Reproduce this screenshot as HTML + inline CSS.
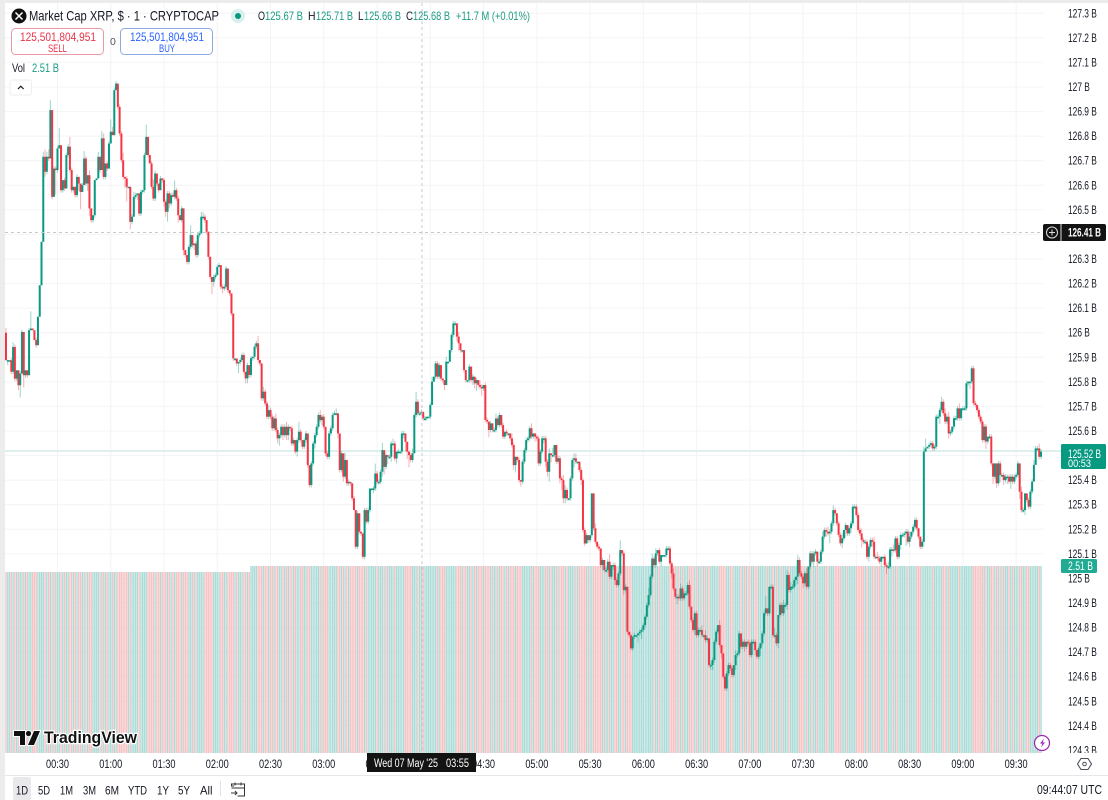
<!DOCTYPE html>
<html lang="en">
<head>
<meta charset="utf-8">
<title>Market Cap XRP chart</title>
<style>
html,body{margin:0;padding:0;background:#fff;width:1108px;height:800px;overflow:hidden}
svg{display:block;font-family:"Liberation Sans",sans-serif}
text{fill:#131722;font-size:12px}
.g{fill:#1a9c84}
</style>
</head>
<body>
<svg id="chart" xmlns="http://www.w3.org/2000/svg" width="1108" height="800" viewBox="0 0 1108 800">
<rect x="0" y="0" width="1108" height="800" fill="#ffffff"/>
<g id="grid"></g>
<g id="volumes"></g>
<line x1="5" x2="1061" y1="451" y2="451" stroke="#d4ebe7" stroke-width="1.5"/>
<g id="candles"></g>
<line x1="422" x2="422" y1="3" y2="753" stroke="#c6c8ce" stroke-dasharray="3 3"/>
<line x1="5" x2="1043" y1="232.5" y2="232.5" stroke="#c6c8ce" stroke-dasharray="3 3"/>
<g id="price-axis"></g>
<rect x="5" y="753" width="1103" height="23" fill="#ffffff"/>
<g id="time-axis"></g>

<g>
<rect x="1061" y="444" width="45" height="25" rx="1.5" fill="#089981"/>
<text x="1068" y="458" style="fill:#fff;font-size:11.5px" textLength="33" lengthAdjust="spacingAndGlyphs">125.52 B</text>
<text x="1068" y="467" style="fill:#fff;font-size:11px" textLength="23" lengthAdjust="spacingAndGlyphs">00:53</text>
</g>
<g>
<rect x="1061" y="559" width="36" height="14" rx="1.5" fill="#22ab94"/>
<text x="1068" y="570" style="fill:#fff;font-size:11.5px" textLength="25" lengthAdjust="spacingAndGlyphs">2.51 B</text>
</g>
<g>
<rect x="1043" y="224" width="63" height="17" rx="2" fill="#131313"/>
<line x1="1061" x2="1061" y1="224" y2="241" stroke="#ddd"/>
<circle cx="1052" cy="232.5" r="5.5" fill="none" stroke="#ddd"/>
<path d="M1049 232.5h6M1052 229.5v6" stroke="#ddd" fill="none"/>
<text x="1068" y="236.500" style="fill:#fff;font-size:11.5px;font-weight:bold" textLength="33" lengthAdjust="spacingAndGlyphs">126.41 B</text>
</g>
<g>
<rect x="367" y="753" width="109" height="19" fill="#131313"/>
<text x="374" y="767" style="fill:#fff;font-size:11.5px" textLength="64" lengthAdjust="spacingAndGlyphs">Wed 07 May '25</text>
<text x="446" y="767" style="fill:#fff;font-size:11.500px" textLength="23" lengthAdjust="spacingAndGlyphs">03:55</text>
</g>

<rect x="0" y="0" width="1108" height="3" fill="#ececec"/>
<rect x="0" y="0" width="5" height="800" fill="#ececec"/>

<g>
<circle cx="19" cy="16" r="7.500" fill="#111"/>
<path d="M15.500 12.500l7 7M22.500 12.500l-7 7" stroke="#fff" stroke-width="1.500" fill="none"/>
</g>
<text x="29" y="20.500" style="font-size:14px" textLength="190" lengthAdjust="spacingAndGlyphs">Market Cap XRP, $ · 1 · CRYPTOCAP</text>
<g>
<circle cx="238" cy="16" r="7" fill="#d9f0ec"/>
<circle cx="238" cy="16" r="3" fill="#089981"/>
</g>
<g>
<text x="258" y="20" textLength="7" lengthAdjust="spacingAndGlyphs">O</text>
<text class="g" x="265" y="20" textLength="38" lengthAdjust="spacingAndGlyphs">125.67 B</text>
<text x="308" y="20" textLength="7.500" lengthAdjust="spacingAndGlyphs">H</text>
<text class="g" x="316" y="20" textLength="37" lengthAdjust="spacingAndGlyphs">125.71 B</text>
<text x="358" y="20" textLength="5.500" lengthAdjust="spacingAndGlyphs">L</text>
<text class="g" x="364" y="20" textLength="37" lengthAdjust="spacingAndGlyphs">125.66 B</text>
<text x="406" y="20" textLength="7" lengthAdjust="spacingAndGlyphs">C</text>
<text class="g" x="413" y="20" textLength="37" lengthAdjust="spacingAndGlyphs">125.68 B</text>
<text class="g" x="456" y="20" textLength="74" lengthAdjust="spacingAndGlyphs">+11.7 M (+0.01%)</text>
</g>
<g>
<rect x="11.500" y="28.500" width="92" height="26" rx="4" fill="#fff" stroke="#eb9aa3"/>
<text x="20" y="41" style="fill:#e8344a;font-size:12px" textLength="76" lengthAdjust="spacingAndGlyphs">125,501,804,951</text>
<text x="48" y="52" style="fill:#e8344a;font-size:11px" textLength="19" lengthAdjust="spacingAndGlyphs">SELL</text>
</g>
<text x="110" y="45" style="fill:#555;font-size:10.500px">0</text>
<g>
<rect x="120.500" y="28.500" width="92" height="26" rx="4" fill="#fff" stroke="#8ea9e2"/>
<text x="130" y="41" style="fill:#2962ff;font-size:12px" textLength="74" lengthAdjust="spacingAndGlyphs">125,501,804,951</text>
<text x="159" y="52" style="fill:#2962ff;font-size:11px" textLength="16" lengthAdjust="spacingAndGlyphs">BUY</text>
</g>
<text x="12" y="72" textLength="13" lengthAdjust="spacingAndGlyphs">Vol</text>
<text class="g" x="32" y="72" textLength="27" lengthAdjust="spacingAndGlyphs">2.51 B</text>
<g>
<rect x="10" y="80" width="21.500" height="15" rx="2" fill="#fff" stroke="#eeeeee"/>
<path d="M18 89l2.800-2.800 2.800 2.800" fill="none" stroke="#131722" stroke-width="1.200"/>
</g>

<g>
<path d="M14 731h11v14h-5v-9h-6zM34 731h6l-6 14h-6z" fill="#111" stroke="#fff" stroke-width="2" paint-order="stroke"/>
<circle cx="28.500" cy="733.500" r="2.600" fill="#111" stroke="#fff" stroke-width="1.500" paint-order="stroke"/>
<text x="44" y="743" style="font-size:17px;font-weight:bold;fill:#111;stroke:#fff;stroke-width:2.500px;paint-order:stroke" textLength="93" lengthAdjust="spacingAndGlyphs">TradingView</text>
</g>
<g>
<circle cx="1042" cy="743" r="7.500" fill="#fff" stroke="#9c27b0" stroke-width="1.200"/>
<path d="M1044 738.500l-4 5h2.400l-1.400 4 4-5h-2.400z" fill="#9c27b0"/>
</g>
<g>
<path d="M1081 758.500h7l3.500 5.500-3.500 5.500h-7l-3.500-5.500z" fill="none" stroke="#4a4f5c" stroke-width="1.100"/>
<circle cx="1084.500" cy="764" r="1.800" fill="none" stroke="#4a4f5c" stroke-width="1"/>
</g>

<rect x="5" y="775" width="1103" height="1" fill="#e6e7eb"/>
<rect x="13" y="777" width="18" height="23" rx="2" fill="#e9e9ec"/>
<g>
<text x="16" y="794.500" textLength="12" lengthAdjust="spacingAndGlyphs">1D</text>
<text x="38" y="794.500" textLength="12" lengthAdjust="spacingAndGlyphs">5D</text>
<text x="60" y="794.500" textLength="13" lengthAdjust="spacingAndGlyphs">1M</text>
<text x="83" y="794.500" textLength="13" lengthAdjust="spacingAndGlyphs">3M</text>
<text x="105" y="794.500" textLength="14" lengthAdjust="spacingAndGlyphs">6M</text>
<text x="128" y="794.500" textLength="19" lengthAdjust="spacingAndGlyphs">YTD</text>
<text x="157" y="794.500" textLength="12" lengthAdjust="spacingAndGlyphs">1Y</text>
<text x="178" y="794.500" textLength="12" lengthAdjust="spacingAndGlyphs">5Y</text>
<text x="200" y="794.500" textLength="12.500" lengthAdjust="spacingAndGlyphs">All</text>
</g>
<rect x="220" y="781" width="1" height="15" fill="#e0e3eb"/>
<g fill="none" stroke="#333" stroke-width="1">
<path d="M234 786h-2.500v-2h13v12h-7M231.500 788h13M235 782.500v3M241 782.500v3"/>
<path d="M231 793h6M235 791l2 2-2 2"/>
</g>
<text x="1037" y="794" style="font-size:12.500px" textLength="65" lengthAdjust="spacingAndGlyphs">09:44:07 UTC</text>
<script>
const closes = [
125.888,125.888,125.888,125.841,125.942,125.813,125.847,125.786,125.834,126.003,125.827,125.847,125.827,126.010,126.017,126.010,125.970,125.949,126.065,126.193,126.370,126.716,126.655,126.716,126.709,126.906,126.553,126.668,126.662,126.750,
126.763,126.580,126.621,126.587,126.723,126.757,126.662,126.580,126.594,126.560,126.634,126.607,126.573,126.601,126.709,126.607,126.641,126.506,126.458,126.478,126.621,126.628,126.716,126.662,126.791,126.634,126.689,126.668,126.770,126.818,
126.804,126.987,127.014,126.919,126.811,126.702,126.634,126.628,126.594,126.594,126.451,126.472,126.553,126.560,126.567,126.485,126.573,126.580,126.723,126.797,126.723,126.689,126.594,126.546,126.648,126.607,126.580,126.628,126.621,126.533,
126.492,126.567,126.526,126.560,126.553,126.580,126.546,126.478,126.458,126.506,126.336,126.316,126.288,126.349,126.397,126.356,126.363,126.316,126.397,126.404,126.472,126.472,126.458,126.411,126.309,126.227,126.207,126.227,126.234,126.268,
126.275,126.187,126.180,126.187,126.261,126.173,126.160,126.078,125.895,125.895,125.875,125.881,125.889,125.909,125.841,125.814,125.868,125.828,125.896,125.902,125.943,125.957,125.889,125.875,125.733,125.760,125.712,125.658,125.685,125.658,
125.611,125.651,125.604,125.570,125.583,125.617,125.583,125.617,125.583,125.617,125.611,125.549,125.563,125.516,125.563,125.597,125.563,125.536,125.563,125.590,125.461,125.380,125.468,125.549,125.583,125.617,125.665,125.644,125.658,125.617,
125.509,125.495,125.590,125.611,125.665,125.672,125.672,125.590,125.441,125.509,125.414,125.482,125.387,125.393,125.387,125.326,125.278,125.129,125.265,125.190,125.183,125.088,125.278,125.231,125.278,125.366,125.366,125.366,125.427,125.393,
125.393,125.434,125.522,125.454,125.502,125.495,125.495,125.549,125.549,125.488,125.516,125.516,125.516,125.590,125.590,125.556,125.516,125.502,125.482,125.509,125.665,125.719,125.672,125.672,125.678,125.651,125.651,125.658,125.658,125.706,
125.801,125.821,125.875,125.821,125.868,125.814,125.807,125.787,125.882,125.882,125.929,125.991,126.038,126.038,125.984,125.957,125.929,125.929,125.848,125.807,125.807,125.862,125.807,125.821,125.794,125.807,125.787,125.780,125.773,125.787,
125.645,125.638,125.604,125.631,125.604,125.604,125.651,125.624,125.665,125.624,125.577,125.597,125.590,125.590,125.570,125.543,125.461,125.495,125.482,125.400,125.394,125.475,125.522,125.563,125.570,125.611,125.577,125.590,125.577,125.570,
125.468,125.516,125.570,125.570,125.475,125.434,125.509,125.502,125.502,125.543,125.475,125.489,125.407,125.400,125.326,125.360,125.326,125.326,125.407,125.482,125.489,125.475,125.475,125.441,125.400,125.197,125.142,125.176,125.156,125.176,
125.346,125.204,125.149,125.129,125.122,125.054,125.075,125.034,125.034,125.068,125.007,125.054,125.054,124.993,124.973,125.020,125.115,125.102,124.952,124.966,124.783,124.769,124.715,124.763,124.769,124.769,124.776,124.783,124.790,124.810,
124.844,124.891,124.932,125.007,125.081,125.054,125.102,125.115,125.068,125.095,125.095,125.095,125.122,125.122,125.061,125.020,124.959,124.925,124.925,124.919,124.959,124.919,124.939,124.939,124.973,124.885,124.830,124.790,124.858,124.769,
124.790,124.790,124.769,124.769,124.749,124.756,124.647,124.647,124.668,124.742,124.783,124.810,124.729,124.695,124.600,124.552,124.613,124.647,124.634,124.607,124.647,124.688,124.695,124.776,124.722,124.742,124.722,124.742,124.736,124.688,
124.742,124.742,124.708,124.681,124.715,124.736,124.776,124.858,124.878,124.858,124.966,124.966,124.769,124.769,124.736,124.851,124.892,124.858,124.892,124.892,125.014,124.953,124.966,124.966,124.993,125.007,125.075,125.021,125.007,124.980,
125.021,124.966,125.048,125.102,125.068,125.102,125.109,125.068,125.068,125.109,125.170,125.197,125.190,125.183,125.190,125.224,125.278,125.265,125.224,125.177,125.143,125.163,125.197,125.217,125.183,125.204,125.224,125.292,125.292,125.258,
125.197,125.183,125.156,125.149,125.149,125.088,125.129,125.156,125.149,125.088,125.088,125.082,125.068,125.088,125.088,125.054,125.048,125.048,125.118,125.118,125.115,125.163,125.088,125.136,125.177,125.177,125.183,125.190,125.149,125.170,
125.190,125.210,125.238,125.204,125.170,125.129,125.149,125.516,125.529,125.536,125.543,125.550,125.529,125.536,125.658,125.658,125.685,125.719,125.672,125.638,125.658,125.590,125.597,125.618,125.652,125.652,125.692,125.652,125.692,125.692,
125.692,125.794,125.801,125.801,125.855,125.713,125.706,125.685,125.658,125.638,125.563,125.618,125.557,125.577,125.577,125.468,125.414,125.468,125.387,125.468,125.421,125.421,125.400,125.414,125.414,125.394,125.414,125.394,125.414,125.421,
125.468,125.353,125.278,125.278,125.346,125.319,125.292,125.353,125.394,125.462,125.529,125.529,125.495,125.516
];
const wickUp = [
2,0,0,1,2,1,0,0,1,1,0,0,0,1,7,0,0,1,0,0,0,2,3,2,3,4,0,1,1,1,
7,0,0,1,1,1,4,1,0,0,1,0,0,1,3,1,0,2,0,0,0,0,2,0,3,2,0,1,1,5,
2,1,1,0,1,1,3,0,1,0,0,1,2,1,0,0,1,0,1,5,0,0,1,3,1,0,0,1,0,1,
1,1,1,1,1,4,1,1,0,1,0,0,0,1,4,0,0,1,1,1,2,2,1,0,0,0,0,1,1,1,
1,0,1,1,1,0,0,0,0,0,0,0,1,1,1,0,1,0,1,0,1,1,3,0,0,2,1,1,2,1,
1,1,2,1,1,1,1,1,2,1,0,1,1,0,1,4,1,0,1,1,0,0,1,1,1,1,1,2,1,1,
0,1,1,1,1,1,2,0,0,1,0,3,0,1,0,0,1,0,1,0,0,0,1,1,1,0,0,1,4,1,
1,1,3,0,1,0,1,1,2,1,0,1,0,1,1,0,0,0,1,2,1,4,1,1,1,0,1,0,0,1,
2,0,1,1,1,0,0,0,2,0,0,1,1,1,0,2,0,0,0,0,0,1,0,1,0,1,0,2,1,0,
1,1,0,1,0,1,2,1,1,0,1,0,1,0,0,2,1,0,0,1,0,1,1,1,1,1,2,0,0,1,
1,1,1,1,1,1,2,0,3,0,0,1,1,1,2,2,1,0,1,1,2,2,0,0,1,1,1,1,0,0,
0,0,2,0,1,0,1,0,1,1,3,0,1,1,1,1,4,0,1,1,0,0,1,0,1,0,0,1,1,1,
1,1,3,1,2,1,2,0,1,0,0,0,1,1,1,1,2,0,1,1,2,1,1,1,1,2,0,1,1,1,
1,1,2,0,2,1,0,1,1,1,1,0,2,0,0,1,1,1,1,1,0,2,1,1,0,1,1,0,1,1,
1,1,1,0,1,0,1,1,5,0,0,1,1,3,1,0,1,1,2,1,2,1,2,1,1,0,2,1,1,1,
1,2,0,1,1,1,1,0,1,1,2,1,1,2,1,1,2,1,0,1,1,2,0,1,0,1,1,1,1,1,
1,1,2,1,1,1,1,1,1,2,1,2,1,0,0,1,1,2,1,1,2,1,1,1,1,1,1,1,1,2,
0,1,1,1,0,0,1,2,4,0,1,1,1,1,1,1,1,2,1,2,1,2,1,0,1,1,1,2,0,1,
1,1,0,0,1,1,1,0,1,1,1,1,1,0,1,1,0,0,0,1,1,1,1,1,1,1,1,1,1,1,
1,0,2,1,0,0,1,1,1,2,1,1,2,1
];
const wickDown = [
0,2,0,1,1,1,1,2,5,0,5,1,1,0,0,0,0,1,0,0,0,0,2,1,1,0,1,0,10,1,
0,1,1,1,0,1,1,1,1,1,1,3,7,0,0,1,3,3,1,1,1,0,0,1,0,1,1,1,0,0,
0,0,0,1,1,1,1,4,6,0,3,1,0,1,2,1,1,1,1,0,1,0,1,1,1,1,1,0,1,2,
2,4,2,1,0,1,1,3,0,1,2,1,1,1,1,1,2,1,1,1,0,1,1,1,1,1,5,2,1,0,
0,1,2,1,1,1,1,1,1,1,1,4,1,1,1,2,2,1,1,1,1,1,1,1,1,1,1,1,1,1,
1,1,1,2,3,1,2,1,2,2,1,1,1,1,2,1,1,1,1,1,1,1,1,1,2,1,1,1,2,1,
1,1,1,1,1,0,1,2,1,1,2,1,1,1,1,1,0,1,1,1,1,1,1,1,1,1,1,2,1,1,
1,1,2,3,1,3,1,2,1,1,2,1,1,1,2,4,3,5,1,1,0,1,1,1,1,1,1,1,0,1,
0,0,1,1,1,1,1,2,0,1,0,1,1,1,2,3,1,1,1,1,1,1,1,2,2,3,1,1,3,1,
1,1,3,1,1,1,1,1,1,1,1,1,1,1,1,1,2,3,1,1,2,1,1,1,1,1,1,1,2,1,
1,1,1,2,2,2,4,3,1,1,1,1,2,4,2,2,1,1,1,1,3,1,1,1,2,1,1,0,1,1,
1,1,1,1,1,1,2,1,1,1,1,1,2,2,1,1,1,1,2,1,1,1,1,1,1,1,3,1,3,1,
1,1,1,1,1,1,1,1,1,2,1,1,1,1,1,2,1,1,3,1,1,1,1,1,1,1,1,1,2,1,
1,1,1,1,1,1,1,2,2,1,1,1,1,2,1,1,1,1,1,1,1,2,1,1,1,1,2,1,1,1,
1,1,2,1,1,3,1,1,1,1,1,1,1,1,1,2,1,1,1,1,2,1,1,1,1,2,3,1,1,2,
1,1,1,1,1,2,1,2,1,1,1,1,2,1,4,1,1,1,1,1,1,2,1,3,1,1,2,1,1,1,
1,1,3,1,1,1,2,1,2,1,1,1,1,2,1,1,3,1,1,3,1,1,1,1,2,1,1,5,1,2,
1,1,1,1,1,1,1,2,0,0,1,1,1,1,1,1,3,1,1,1,1,2,1,1,1,1,1,1,1,1,
1,1,1,3,1,1,1,1,1,1,1,1,3,1,1,1,3,1,2,1,3,1,2,1,3,1,3,1,1,1,
1,3,1,1,2,1,1,1,1,0,0,1,1,1
];
const volumes = [
2.43,2.43,2.43,2.43,2.43,2.43,2.43,2.43,2.43,2.43,2.43,2.43,2.43,2.43,2.43,2.43,2.43,2.43,2.43,2.43,2.43,2.43,2.43,2.43,2.43,2.43,2.43,2.43,2.43,2.43,
2.43,2.43,2.43,2.43,2.43,2.43,2.43,2.43,2.43,2.43,2.43,2.43,2.43,2.43,2.43,2.43,2.43,2.43,2.43,2.43,2.43,2.43,2.43,2.43,2.43,2.43,2.43,2.43,2.43,2.43,
2.43,2.43,2.43,2.43,2.43,2.43,2.43,2.43,2.43,2.43,2.43,2.43,2.43,2.43,2.43,2.43,2.43,2.43,2.43,2.43,2.43,2.43,2.43,2.43,2.43,2.43,2.43,2.43,2.43,2.43,
2.43,2.43,2.43,2.43,2.43,2.43,2.43,2.43,2.43,2.43,2.43,2.43,2.43,2.43,2.43,2.43,2.43,2.43,2.43,2.43,2.43,2.43,2.43,2.43,2.43,2.43,2.43,2.43,2.43,2.43,
2.43,2.43,2.43,2.43,2.43,2.43,2.43,2.43,2.43,2.43,2.43,2.43,2.43,2.43,2.43,2.43,2.43,2.43,2.51,2.51,2.51,2.51,2.51,2.51,2.51,2.51,2.51,2.51,2.51,2.51,
2.51,2.51,2.51,2.51,2.51,2.51,2.51,2.51,2.51,2.51,2.51,2.51,2.51,2.51,2.51,2.51,2.51,2.51,2.51,2.51,2.51,2.51,2.51,2.51,2.51,2.51,2.51,2.51,2.51,2.51,
2.51,2.51,2.51,2.51,2.51,2.51,2.51,2.51,2.51,2.51,2.51,2.51,2.51,2.51,2.51,2.51,2.51,2.51,2.51,2.51,2.51,2.51,2.51,2.51,2.51,2.51,2.51,2.51,2.51,2.51,
2.51,2.51,2.51,2.51,2.51,2.51,2.51,2.51,2.51,2.51,2.51,2.51,2.51,2.51,2.51,2.51,2.51,2.51,2.51,2.51,2.51,2.51,2.51,2.51,2.51,2.51,2.51,2.51,2.51,2.51,
2.51,2.51,2.51,2.51,2.51,2.51,2.51,2.51,2.51,2.51,2.51,2.51,2.51,2.51,2.51,2.51,2.51,2.51,2.51,2.51,2.51,2.51,2.51,2.51,2.51,2.51,2.51,2.51,2.51,2.51,
2.51,2.51,2.51,2.51,2.51,2.51,2.51,2.51,2.51,2.51,2.51,2.51,2.51,2.51,2.51,2.51,2.51,2.51,2.51,2.51,2.51,2.51,2.51,2.51,2.51,2.51,2.51,2.51,2.51,2.51,
2.51,2.51,2.51,2.51,2.51,2.51,2.51,2.51,2.51,2.51,2.51,2.51,2.51,2.51,2.51,2.51,2.51,2.51,2.51,2.51,2.51,2.51,2.51,2.51,2.51,2.51,2.51,2.51,2.51,2.51,
2.51,2.51,2.51,2.51,2.51,2.51,2.51,2.51,2.51,2.51,2.51,2.51,2.51,2.51,2.51,2.51,2.51,2.51,2.51,2.51,2.51,2.51,2.51,2.51,2.51,2.51,2.51,2.51,2.51,2.51,
2.51,2.51,2.51,2.51,2.51,2.51,2.51,2.51,2.51,2.51,2.51,2.51,2.51,2.51,2.51,2.51,2.51,2.51,2.51,2.51,2.51,2.51,2.51,2.51,2.51,2.51,2.51,2.51,2.51,2.51,
2.51,2.51,2.51,2.51,2.51,2.51,2.51,2.51,2.51,2.51,2.51,2.51,2.51,2.51,2.51,2.51,2.51,2.51,2.51,2.51,2.51,2.51,2.51,2.51,2.51,2.51,2.51,2.51,2.51,2.51,
2.51,2.51,2.51,2.51,2.51,2.51,2.51,2.51,2.51,2.51,2.51,2.51,2.51,2.51,2.51,2.51,2.51,2.51,2.51,2.51,2.51,2.51,2.51,2.51,2.51,2.51,2.51,2.51,2.51,2.51,
2.51,2.51,2.51,2.51,2.51,2.51,2.51,2.51,2.51,2.51,2.51,2.51,2.51,2.51,2.51,2.51,2.51,2.51,2.51,2.51,2.51,2.51,2.51,2.51,2.51,2.51,2.51,2.51,2.51,2.51,
2.51,2.51,2.51,2.51,2.51,2.51,2.51,2.51,2.51,2.51,2.51,2.51,2.51,2.51,2.51,2.51,2.51,2.51,2.51,2.51,2.51,2.51,2.51,2.51,2.51,2.51,2.51,2.51,2.51,2.51,
2.51,2.51,2.51,2.51,2.51,2.51,2.51,2.51,2.51,2.51,2.51,2.51,2.51,2.51,2.51,2.51,2.51,2.51,2.51,2.51,2.51,2.51,2.51,2.51,2.51,2.51,2.51,2.51,2.51,2.51,
2.51,2.51,2.51,2.51,2.51,2.51,2.51,2.51,2.51,2.51,2.51,2.51,2.51,2.51,2.51,2.51,2.51,2.51,2.51,2.51,2.51,2.51,2.51,2.51,2.51,2.51,2.51,2.51,2.51,2.51,
2.51,2.51,2.51,2.51,2.51,2.51,2.51,2.51,2.51,2.51,2.51,2.51,2.51,2.51
];
const priceTicks = [127.3,127.2,127.1,127,126.9,126.8,126.7,126.6,126.5,126.3,126.2,126.1,126,125.9,125.8,125.7,125.6,125.4,125.3,125.2,125.1,125,124.9,124.8,124.7,124.6,124.5,124.4,124.3];
const gridPrices = [127.3,127.2,127.1,127,126.9,126.8,126.7,126.6,126.5,126.4,126.3,126.2,126.1,126,125.9,125.8,125.7,125.6,125.5,125.4,125.3,125.2,125.1,125,124.9,124.8,124.7,124.6,124.5,124.4,124.3];
const timeTickLabels = ['00:30','01:00','01:30','02:00','02:30','03:00','03:30','04:00','04:30','05:00','05:30','06:00','06:30','07:00','07:30','08:00','08:30','09:00','09:30'];
const timeTickIndex = [29,59,89,119,149,179,209,239,269,299,329,359,389,419,449,479,509,539,569];

const SVG_NS = 'http://www.w3.org/2000/svg';
const xOf = i => 6 + i * 1.7753;
const yOf = p => 87 + (127 - p) * 245.7;
const volY = v => 753 - v / 2.51 * 187;
const GREEN = '#089981', RED = '#f23645', VOL_GREEN = '#abdcd7', VOL_RED = '#f6c2c4';
function mk(tag, parent, attrs) {
  const el = document.createElementNS(SVG_NS, tag);
  for (const k in attrs) el.setAttribute(k, attrs[k]);
  parent.appendChild(el);
  return el;
}
const gridG = document.getElementById('grid');
const volG = document.getElementById('volumes');
const candleG = document.getElementById('candles');
const priceG = document.getElementById('price-axis');
const timeG = document.getElementById('time-axis');

gridPrices.forEach(p => {
  const el = mk('line', gridG, {x1: 5, x2: 1043, y1: yOf(p), y2: yOf(p), stroke: '#f3f4f6'});
  
  
});
timeTickIndex.forEach(i => {
  const el = mk('line', gridG, {x1: xOf(i), x2: xOf(i), y1: 3, y2: 753, stroke: '#f3f4f6'});
  
  
});

closes.forEach((c, i) => {
  const o = i === 0 ? 126.0 : closes[i - 1];
  const up = c >= o;
  const x = xOf(i);
  const bar = mk('rect', volG, {x: x - 0.7, y: volY(volumes[i]), width: 1.4, height: 753 - volY(volumes[i]), fill: up ? VOL_GREEN : VOL_RED});
  
  

  const hi = Math.max(o, c) + (wickUp[i] || 0) / 100;
  const lo = Math.min(o, c) - (wickDown[i] || 0) / 100;
  const wick = mk('line', candleG, {x1: x, x2: x, y1: yOf(hi), y2: yOf(lo), stroke: up ? GREEN : RED, 'stroke-width': 1, opacity: 0.4});
  
  

  const top = yOf(Math.max(o, c));
  const h = Math.max(1.5, Math.abs(yOf(o) - yOf(c)));
  const body = mk('rect', candleG, {x: x - 1, y: top, width: 2, height: h, fill: up ? GREEN : RED});
  
  
});

priceTicks.forEach(p => {
  const t = mk('text', priceG, {x: 1068, y: yOf(p) + 4, style: 'font-size:11.5px'});
  t.textContent = p + ' B';
  
  
  t.setAttribute('textLength', (t.getComputedTextLength() * 0.73).toFixed(1));
  t.setAttribute('lengthAdjust', 'spacingAndGlyphs');
});
timeTickLabels.forEach((label, k) => {
  const t = mk('text', timeG, {x: xOf(timeTickIndex[k]), y: 768, 'text-anchor': 'middle', style: 'font-size:11.5px', textLength: 23, lengthAdjust: 'spacingAndGlyphs'});
  t.textContent = label;
  
  
});
</script>
</svg>
</body>
</html>
